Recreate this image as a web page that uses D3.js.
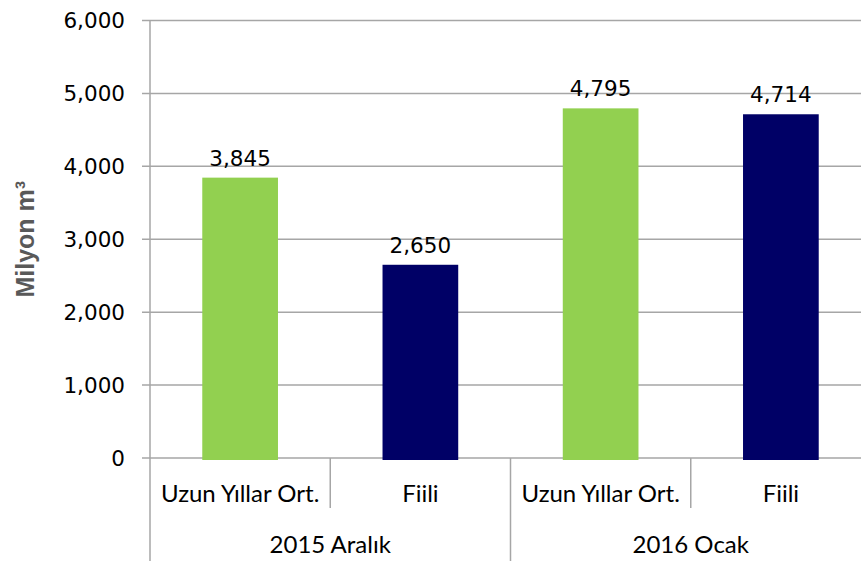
<!DOCTYPE html>
<html><head><meta charset="utf-8">
<script src="https://cdn.jsdelivr.net/npm/d3@7/dist/d3.min.js"></script>
<style>body{margin:0;background:#fff}svg{display:block}</style>
</head><body>
<script>
const groups = ["2015 Aralık", "2016 Ocak"];
const series = ["Uzun Yıllar Ort.", "Fiili"];
const values = [[3845, 2650], [4795, 4714]];
const colors = ["#92D050", "#000066"];
const yTicks = [0, 1000, 2000, 3000, 4000, 5000, 6000];
const yTitle = "Milyon m³";

const W = 861, H = 561;
const padL = 150, padR = 871, padT = 20.5, padB = 458;
const svg = d3.select("body").append("svg").attr("width", W).attr("height", H);

const y = d3.scaleLinear().domain([0, 6000]).range([padB, padT]);
const x0 = d3.scaleBand().domain(groups).range([padL, padR]);
const x1 = d3.scaleBand().domain(series).range([0, x0.bandwidth()]).paddingInner(0.58).paddingOuter(0.29);

const grid = "#a6a6a6";
svg.append("g").selectAll("line").data(yTicks).join("line")
  .attr("x1", padL - 8).attr("x2", padR)
  .attr("y1", d => y(d)).attr("y2", d => y(d))
  .attr("stroke", grid).attr("stroke-width", 1.5);

svg.append("line").attr("x1", padL).attr("x2", padL).attr("y1", padT).attr("y2", H)
  .attr("stroke", grid).attr("stroke-width", 1.5);

svg.append("g").selectAll("text").data(yTicks).join("text")
  .attr("x", padL - 25).attr("y", d => y(d)).attr("dy", "0.36em")
  .attr("text-anchor", "end")
  .style("font-family", "DejaVu Sans").style("font-size", "21.5px").attr("fill", "#000")
  .text(d => d3.format(",")(d));

const flat = [];
groups.forEach((g, gi) => series.forEach((s, si) => flat.push({g, s, si, v: values[gi][si]})));
svg.append("g").selectAll("rect").data(flat).join("rect")
  .attr("x", d => x0(d.g) + x1(d.s))
  .attr("width", x1.bandwidth())
  .attr("y", d => y(d.v))
  .attr("height", d => y(0) - y(d.v) + 2)
  .attr("fill", d => colors[d.si]);

svg.append("g").selectAll("text").data(flat).join("text")
  .attr("x", d => x0(d.g) + x1(d.s) + x1.bandwidth() / 2)
  .attr("y", d => y(d.v) - 12)
  .attr("text-anchor", "middle")
  .style("font-family", "DejaVu Sans").style("font-size", "21.5px").attr("fill", "#000")
  .text(d => d3.format(",")(d.v));

const sub = x0.bandwidth() / 2;
groups.forEach(g => {
  const gx = x0(g);
  svg.append("line").attr("x1", gx + sub).attr("x2", gx + sub).attr("y1", padB).attr("y2", 508)
    .attr("stroke", grid).attr("stroke-width", 1.5);
  svg.append("line").attr("x1", gx + x0.bandwidth()).attr("x2", gx + x0.bandwidth()).attr("y1", padB).attr("y2", H)
    .attr("stroke", grid).attr("stroke-width", 1.5);
});

svg.append("g").selectAll("text").data(flat).join("text")
  .attr("x", d => x0(d.g) + (d.si + 0.5) * sub)
  .attr("y", 502)
  .attr("text-anchor", "middle")
  .style("font-family", "Lato").style("font-size", "24px").attr("fill", "#000")
  .text(d => d.s);

svg.append("g").selectAll("text").data(groups).join("text")
  .attr("x", d => x0(d) + x0.bandwidth() / 2)
  .attr("y", 553)
  .attr("text-anchor", "middle")
  .style("font-family", "Lato").style("font-size", "24px").attr("fill", "#000")
  .text(d => d);

svg.append("text")
  .attr("transform", `translate(34, ${(padT + padB) / 2}) rotate(-90)`)
  .attr("text-anchor", "middle")
  .style("font-family", "Liberation Sans").style("font-size", "25px").style("font-weight", "bold")
  .attr("fill", "#595959")
  .text(yTitle);
</script>
</body></html>
